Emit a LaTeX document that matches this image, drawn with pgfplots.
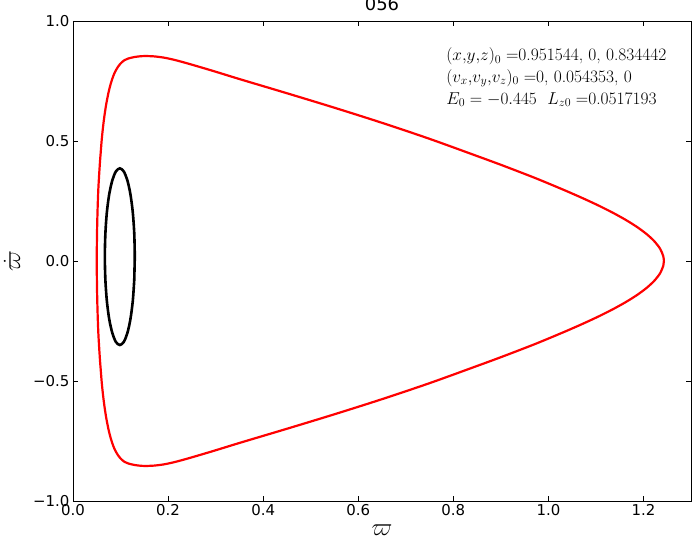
\documentclass[border=0pt]{standalone}
\usepackage{pgfplots}
\pgfplotsset{compat=1.18}
\usepackage{fontspec}
\newfontfamily\dejavu{DejaVu Sans}

% outer orbit (red)
\pgfplotstableread{
x y
1.2430 0
1.2417 0.02
1.2353 0.05
1.2239 0.08
1.2079 0.11
1.1877 0.14
1.1638 0.17
1.1366 0.20
1.1066 0.23
1.0741 0.26
1.0397 0.29
1.0038 0.32
0.9668 0.35
0.9038 0.398
0.8500 0.4373
0.7500 0.5090
0.6500 0.5757
0.5500 0.6386
0.4500 0.6990
0.3520 0.7570
0.3000 0.7887
0.2600 0.8123
0.2300 0.8293
0.2100 0.8396
0.1900 0.8478
0.1700 0.8526
0.1516 0.8540
0.1390 0.8525
0.1270 0.8490
0.1160 0.8435
0.1085 0.8370
0.1011 0.8250
0.0949 0.8100
0.0890 0.7900
0.0846 0.7700
0.0796 0.7400
0.0745 0.7000
0.0696 0.6500
0.0658 0.6000
0.0627 0.5500
0.0602 0.5000
0.0582 0.4500
0.0563 0.4000
0.0533 0.3000
0.0515 0.2000
0.0504 0.1000
0.0500 0
0.0504 -0.1000
0.0515 -0.2000
0.0533 -0.3000
0.0563 -0.4000
0.0582 -0.4500
0.0602 -0.5000
0.0627 -0.5500
0.0658 -0.6000
0.0696 -0.6500
0.0745 -0.7000
0.0796 -0.7400
0.0846 -0.7700
0.0890 -0.7900
0.0949 -0.8100
0.1011 -0.8250
0.1085 -0.8370
0.1160 -0.8435
0.1270 -0.8490
0.1390 -0.8525
0.1516 -0.8540
0.1700 -0.8526
0.1900 -0.8478
0.2100 -0.8396
0.2300 -0.8293
0.2600 -0.8123
0.3000 -0.7887
0.3520 -0.7570
0.4500 -0.6990
0.5500 -0.6386
0.6500 -0.5757
0.7500 -0.5090
0.8500 -0.4373
0.9038 -0.398
0.9668 -0.35
1.0038 -0.32
1.0397 -0.29
1.0741 -0.26
1.1066 -0.23
1.1366 -0.20
1.1638 -0.17
1.1877 -0.14
1.2079 -0.11
1.2239 -0.08
1.2353 -0.05
1.2417 -0.02
}\outerorbit

% inner orbit (black)
\pgfplotstableread{
x y
0.1300 0.018
0.1289 0.1132
0.1258 0.202
0.1208 0.2782
0.1143 0.3367
0.1067 0.3735
0.0985 0.386
0.0903 0.3735
0.0828 0.3367
0.0762 0.2782
0.0712 0.202
0.0681 0.1132
0.0670 0.018
0.0681 -0.0772
0.0712 -0.166
0.0762 -0.2422
0.0828 -0.3007
0.0903 -0.3375
0.0985 -0.350
0.1067 -0.3375
0.1143 -0.3007
0.1208 -0.2422
0.1258 -0.166
0.1289 -0.0772
}\innerorbit

\begin{document}
\begin{tikzpicture}
\begin{axis}[
    name=ax,
    scale only axis,
    width=618bp, height=480bp,
    xmin=0, xmax=1.3, ymin=-1, ymax=1,
    xtick={0,0.2,0.4,0.6,0.8,1.0,1.2},
    xticklabels={0.0,0.2,0.4,0.6,0.8,1.0,1.2},
    ytick={-1,-0.5,0,0.5,1},
    yticklabels={−1.0,−0.5,0.0,0.5,1.0},
    tick align=inside,
    major tick length=5bp,
    tick style={black, line width=0.6pt},
    axis line style={line width=0.8pt},
    ticklabel style={font=\dejavu\fontsize{15}{18}\selectfont},
    title={056},
    title style={font=\dejavu\fontsize{18}{21}\selectfont, at={(rel axis cs:0.5,1)}, anchor=south, inner sep=0pt, yshift=4bp},
    xlabel={$\varpi$},
    ylabel={$\dot{\varpi}$},
    xlabel style={font=\fontsize{24}{26}\selectfont, at={(rel axis cs:0.5,0)}, anchor=center, inner sep=0pt, yshift=-29bp},
    ylabel style={font=\fontsize{24}{26}\selectfont, at={(rel axis cs:0,0.5)}, anchor=center, inner sep=0pt, yshift=61bp},
    clip=false,
]
\addplot[red, line width=2.2bp, smooth, tension=0.5] table[x=x, y=y] {\outerorbit} -- cycle;
\addplot[black, line width=2.6bp, smooth, tension=0.5] table[x=x, y=y] {\innerorbit} -- cycle;
\node[anchor=north west, align=left, inner sep=0, font=\fontsize{17.5}{22}\selectfont]
  at (axis cs:0.785,0.89)
  {$(x{,}y{,}z)_0=$0.951544, 0, 0.834442\\
   $(v_x{,}v_y{,}v_z)_0=$0, 0.054353, 0\\
   $E_0=-0.445$\ \ $L_{z0}=$0.0517193};
\end{axis}
\pgfresetboundingbox
\path ([xshift=-73bp,yshift=-38bp]ax.south west) rectangle ([xshift=4bp,yshift=21bp]ax.north east);
\end{tikzpicture}
\end{document}
